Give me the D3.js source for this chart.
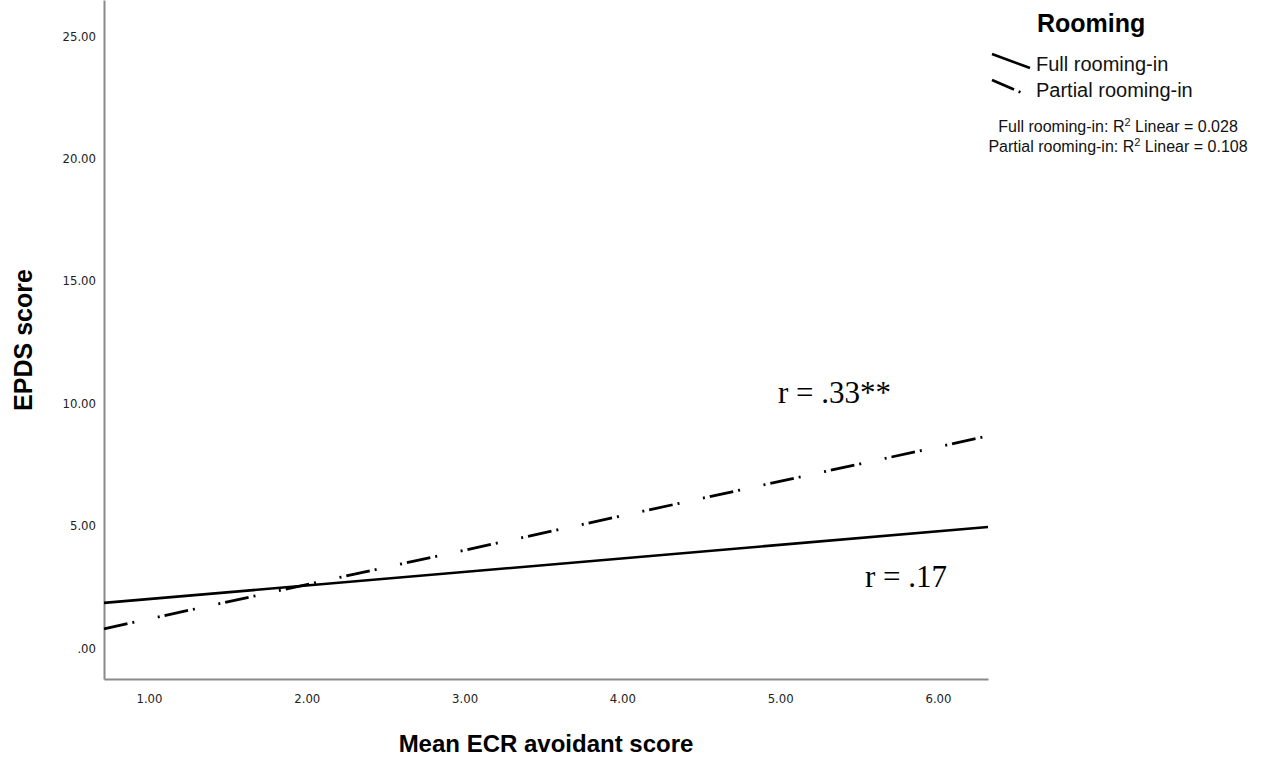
<!DOCTYPE html>
<html><head><meta charset="utf-8">
<script src="https://cdn.jsdelivr.net/npm/d3@7"></script>
<style>body{margin:0;background:#fff}svg{display:block}</style>
</head><body>
<svg id="c" width="1267" height="760"></svg>
<script>
// ---- data ----
const xTicks = [1, 2, 3, 4, 5, 6];
const yTicks = [0, 5, 10, 15, 20, 25];
const xEnds = [0.715, 6.317];           // fit lines span the x-axis range
const fullY = [1.84, 4.94];             // Full rooming-in fit line
const partialY = [0.78, 8.66];          // Partial rooming-in fit line
const seriesNames = ["Full rooming-in", "Partial rooming-in"];
const r2Labels = ["Full rooming-in: R", "Partial rooming-in: R"];
const r2Values = ["0.028", "0.108"];
const rLabels = ["r = .17", "r = .33**"];

const svg = d3.select("#c");
const x = d3.scaleLinear().domain([0.715, 6.317]).range([104, 988]);
const y = d3.scaleLinear().domain([-1.27, 26.47]).range([679, 0]);
const fmt = v => v === 0 ? ".00" : d3.format(".2f")(v);

// axes
const gx = svg.append("g").attr("transform", "translate(0,679)")
  .call(d3.axisBottom(x).tickValues(xTicks).tickFormat(fmt).tickSize(0).tickPadding(15).tickSizeOuter(0));
const gy = svg.append("g").attr("transform", "translate(104,0)")
  .call(d3.axisLeft(y).tickValues(yTicks).tickFormat(fmt).tickSize(0).tickPadding(8).tickSizeOuter(0));
[gx, gy].forEach(g => {
  g.select(".domain").attr("stroke", "#8a8a8a").attr("stroke-width", 2);
  g.selectAll("text").attr("font-family", "'DejaVu Sans Condensed', 'DejaVu Sans'")
    .attr("font-stretch", "condensed").attr("font-size", 13).attr("fill", "#222");
});

// fit lines
const line = d3.line().x(d => x(d[0])).y(d => y(d[1]));
svg.append("path").datum(xEnds.map((v, i) => [v, fullY[i]]))
  .attr("d", line).attr("fill", "none").attr("stroke", "#000").attr("stroke-width", 2.6);
svg.append("path").datum(xEnds.map((v, i) => [v, partialY[i]]))
  .attr("d", line).attr("fill", "none").attr("stroke", "#000").attr("stroke-width", 2.8)
  .attr("stroke-dasharray", "24,5,2,24,2,5");

// r annotations
svg.append("text").attr("x", 778).attr("y", 403).attr("font-family", "Liberation Serif").attr("font-size", 31).text(rLabels[1]);
svg.append("text").attr("x", 865).attr("y", 587).attr("font-family", "Liberation Serif").attr("font-size", 31).text(rLabels[0]);

// axis titles
svg.append("text").attr("x", 546).attr("y", 752).attr("text-anchor", "middle")
  .attr("font-family", "Liberation Sans").attr("font-weight", "bold").attr("font-size", 24).text("Mean ECR avoidant score");
svg.append("text").attr("transform", "translate(32,340) rotate(-90)").attr("text-anchor", "middle")
  .attr("font-family", "Liberation Sans").attr("font-weight", "bold").attr("font-size", 25).text("EPDS score");

// legend
svg.append("text").attr("x", 1037).attr("y", 32).attr("font-family", "Liberation Sans")
  .attr("font-weight", "bold").attr("font-size", 25).text("Rooming");
svg.append("line").attr("x1", 992).attr("y1", 54).attr("x2", 1030).attr("y2", 68)
  .attr("stroke", "#000").attr("stroke-width", 2.6);
svg.append("line").attr("x1", 992).attr("y1", 80).attr("x2", 1022).attr("y2", 93)
  .attr("stroke", "#000").attr("stroke-width", 2.8).attr("stroke-dasharray", "24,5,2,30");
seriesNames.forEach((n, i) => {
  svg.append("text").attr("x", 1036).attr("y", 71 + i * 26).attr("font-family", "Liberation Sans")
    .attr("font-size", 20).attr("fill", "#111").text(n);
});
r2Labels.forEach((n, i) => {
  const t = svg.append("text").attr("x", 1118).attr("y", 132 + i * 20).attr("text-anchor", "middle")
    .attr("font-family", "Liberation Sans").attr("font-size", 16).attr("fill", "#111");
  t.append("tspan").text(n);
  t.append("tspan").attr("dy", -6).attr("font-size", 11).text("2");
  t.append("tspan").attr("dy", 6).text(" Linear = " + r2Values[i]);
});
</script>
</body></html>
